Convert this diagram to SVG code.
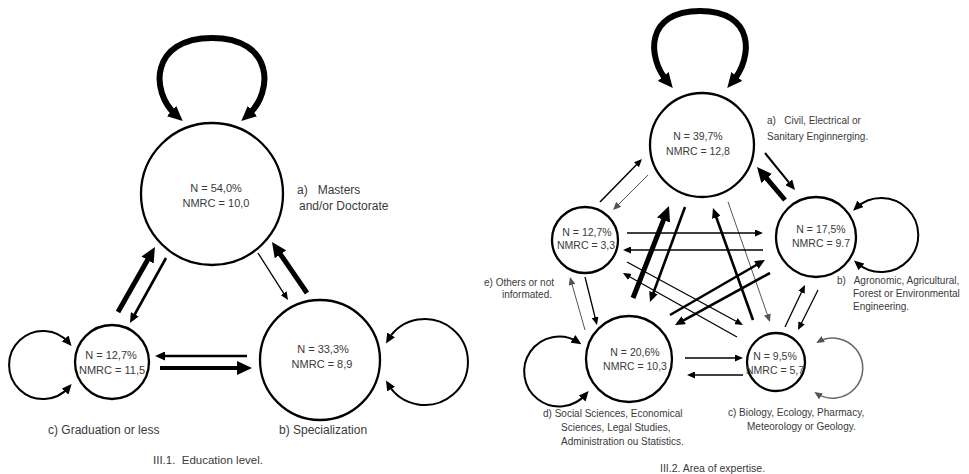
<svg xmlns="http://www.w3.org/2000/svg" width="969" height="474" viewBox="0 0 969 474">
<style>
  .node { fill: #fff; stroke: #000; stroke-width: 2.3; }
  .t { font-family: "Liberation Sans", Arial, sans-serif; fill: #3a3a3a; }
  .nt { font-size: 11px; text-anchor: middle; }
  .nt2 { font-size: 10.5px; text-anchor: middle; }
  .lb { font-size: 12px; }
  .lb2 { font-size: 10px; }
  .cap { font-size: 11.5px; }
  .cap2 { font-size: 10.5px; }
  .e { fill: none; stroke: #000; }
  .thick { stroke-width: 5; marker-end: url(#mThick); }
  .med { stroke-width: 2.6; marker-end: url(#mMed); }
  .thin { stroke-width: 1.3; marker-end: url(#mThin); }
  .gray { stroke: #555; stroke-width: 1; marker-end: url(#mGray); }
  .loopThick { stroke-width: 6; marker-start: url(#mThick); marker-end: url(#mThick); }
  .loopMed { stroke-width: 2; marker-start: url(#mMed); marker-end: url(#mMed); }
  .loopGray { stroke: #666; stroke-width: 1.5; marker-start: url(#mGray); marker-end: url(#mGray); }
</style>
<defs>
  <marker id="mThick" markerUnits="userSpaceOnUse" markerWidth="16" markerHeight="14" refX="6" refY="7" orient="auto-start-reverse">
    <path d="M0,0 L15,7 L0,14 z" fill="#000"/>
  </marker>
  <marker id="mMed" markerUnits="userSpaceOnUse" markerWidth="11" markerHeight="9" refX="6" refY="4.5" orient="auto-start-reverse">
    <path d="M0,0 L10,4.5 L0,9 z" fill="#000"/>
  </marker>
  <marker id="mThin" markerUnits="userSpaceOnUse" markerWidth="9" markerHeight="7" refX="6" refY="3.5" orient="auto-start-reverse">
    <path d="M0,0 L8,3.5 L0,7 z" fill="#000"/>
  </marker>
  <marker id="mGray" markerUnits="userSpaceOnUse" markerWidth="9" markerHeight="7" refX="6" refY="3.5" orient="auto-start-reverse">
    <path d="M0,0 L8,3.5 L0,7 z" fill="#555"/>
  </marker>
</defs>
<rect width="969" height="474" fill="#fff"/>

<!-- Left diagram: Education level -->
<g id="connectors-left">
  <path class="e loopThick" d="M176,115 C150,92 150,38 212,38 C274,38 274,92 248,115"/>
  <path class="e loopMed" d="M69,343 A34,34 0 1 0 69,387"/>
  <path class="e loopMed" d="M388,340 A43,43 0 1 1 388,384"/>
  <line class="e thick" x1="118" y1="312" x2="150.5" y2="254.8"/>
  <line class="e med" x1="166" y1="258" x2="131.9" y2="319.5"/>
  <line class="e thin" x1="258" y1="253" x2="286.9" y2="298.3"/>
  <line class="e thick" x1="307" y1="293" x2="277.1" y2="249.4"/>
  <line class="e med" x1="247" y1="356" x2="159" y2="356"/>
  <line class="e thick" style="stroke-width:4" x1="160" y1="368" x2="243" y2="368"/>
</g>
<g id="edu-a">
  <circle class="node" cx="212" cy="194" r="71"/>
  <text class="t nt" x="216" y="192">N = 54,0%</text>
  <text class="t nt" x="216" y="207">NMRC = 10,0</text>
  <text class="t lb" x="297" y="194" xml:space="preserve">a)   Masters</text>
  <text class="t lb" x="299" y="210">and/or Doctorate</text>
</g>
<g id="edu-c">
  <circle class="node" cx="112" cy="362" r="37"/>
  <text class="t nt" x="111" y="359">N = 12,7%</text>
  <text class="t nt" x="112" y="374">NMRC = 11,5</text>
  <text class="t lb" x="48" y="434">c) Graduation or less</text>
</g>
<g id="edu-b">
  <circle class="node" cx="320" cy="360" r="60"/>
  <text class="t nt" x="323" y="353">N = 33,3%</text>
  <text class="t nt" x="322" y="368">NMRC = 8,9</text>
  <text class="t lb" x="279" y="434">b) Specialization</text>
</g>
<text class="t cap" x="153" y="464" xml:space="preserve">III.1.  Education level.</text>

<!-- Right diagram: Area of expertise -->
<g id="connectors-right">
  <path class="e loopThick" d="M667,81 C647,57 645,11 700,11 C755,11 753,57 733,81"/>
  <path class="e loopMed" d="M856,208 A37,37 0 1 1 857,263"/>
  <path class="e loopMed" d="M578,342 A35,35 0 1 0 586,394"/>
  <path class="e loopGray" d="M818,342 A30,30 0 1 1 816,393"/>
  <line class="e gray" x1="648" y1="175" x2="614.4" y2="208.6"/>
  <line class="e thin" style="stroke-width:1.5" x1="600" y1="202" x2="640.6" y2="160.4"/>
  <line class="e med" style="stroke-width:2" x1="765" y1="153" x2="792.5" y2="186.9"/>
  <line class="e thick" x1="785" y1="200" x2="762.8" y2="173.9"/>
  <line class="e thick" x1="633" y1="298" x2="665.7" y2="214.4"/>
  <line class="e med" x1="685" y1="207" x2="651.4" y2="298.2"/>
  <line class="e med" x1="753" y1="320" x2="714.3" y2="211.8"/>
  <line class="e gray" x1="728" y1="202" x2="769.3" y2="320.1"/>
  <line class="e thin" x1="627" y1="233" x2="761" y2="233"/>
  <line class="e thin" x1="763" y1="250" x2="625" y2="250"/>
  <line class="e thin" x1="627" y1="262" x2="741.2" y2="324"/>
  <line class="e thin" x1="737" y1="337" x2="624.7" y2="274"/>
  <line class="e med" x1="670" y1="315" x2="761.5" y2="262"/>
  <line class="e med" x1="770" y1="273" x2="678.5" y2="323.1"/>
  <line class="e thin" x1="585" y1="277" x2="596.5" y2="323"/>
  <line class="e gray" x1="585" y1="330" x2="570.5" y2="279"/>
  <line class="e thin" x1="785" y1="327" x2="804.1" y2="286.8"/>
  <line class="e thin" x1="818" y1="290" x2="798.9" y2="328.2"/>
  <line class="e thin" style="stroke-width:1.5" x1="685" y1="358" x2="741" y2="358"/>
  <line class="e thin" x1="743" y1="375" x2="689" y2="375"/>
</g>
<g id="area-a">
  <circle class="node" cx="702" cy="145" r="52"/>
  <text class="t nt2" x="698" y="140">N = 39,7%</text>
  <text class="t nt2" x="698" y="155">NMRC = 12,8</text>
  <text class="t lb2" x="767" y="124" xml:space="preserve">a)   Civil, Electrical or</text>
  <text class="t lb2" x="767" y="140">Sanitary Enginnerging.</text>
</g>
<g id="area-b">
  <circle class="node" cx="816" cy="237" r="40"/>
  <text class="t nt2" x="821" y="233">N = 17,5%</text>
  <text class="t nt2" x="821" y="247">NMRC = 9.7</text>
  <text class="t lb2" x="837" y="284" xml:space="preserve">b)   Agronomic, Agricultural,</text>
  <text class="t lb2" x="853" y="297">Forest or Environmental</text>
  <text class="t lb2" x="853" y="310">Engineering.</text>
</g>
<g id="area-e">
  <circle class="node" cx="585" cy="240" r="33"/>
  <text class="t nt2" x="587" y="236">N = 12,7%</text>
  <text class="t nt2" x="586" y="249">NMRC = 3,3</text>
  <text class="t lb2" x="554" y="286" text-anchor="end">e) Others or not</text>
  <text class="t lb2" x="552" y="298" text-anchor="end">informated.</text>
</g>
<g id="area-d">
  <circle class="node" cx="629" cy="359" r="43"/>
  <text class="t nt2" x="635" y="356">N = 20,6%</text>
  <text class="t nt2" x="635" y="370">NMRC = 10,3</text>
  <text class="t lb2" x="543" y="417">d) Social Sciences, Economical</text>
  <text class="t lb2" x="561" y="431">Sciences, Legal Studies,</text>
  <text class="t lb2" x="561" y="445">Administration ou Statistics.</text>
</g>
<g id="area-c">
  <circle class="node" cx="776" cy="362" r="29"/>
  <text class="t nt2" x="775" y="360">N = 9,5%</text>
  <text class="t nt2" x="775" y="374">NMRC = 5,7</text>
  <text class="t lb2" x="728" y="416">c) Biology, Ecology, Pharmacy,</text>
  <text class="t lb2" x="747" y="430">Meteorology or Geology.</text>
</g>
<text class="t cap2" x="660" y="472">III.2. Area of expertise.</text>
</svg>
